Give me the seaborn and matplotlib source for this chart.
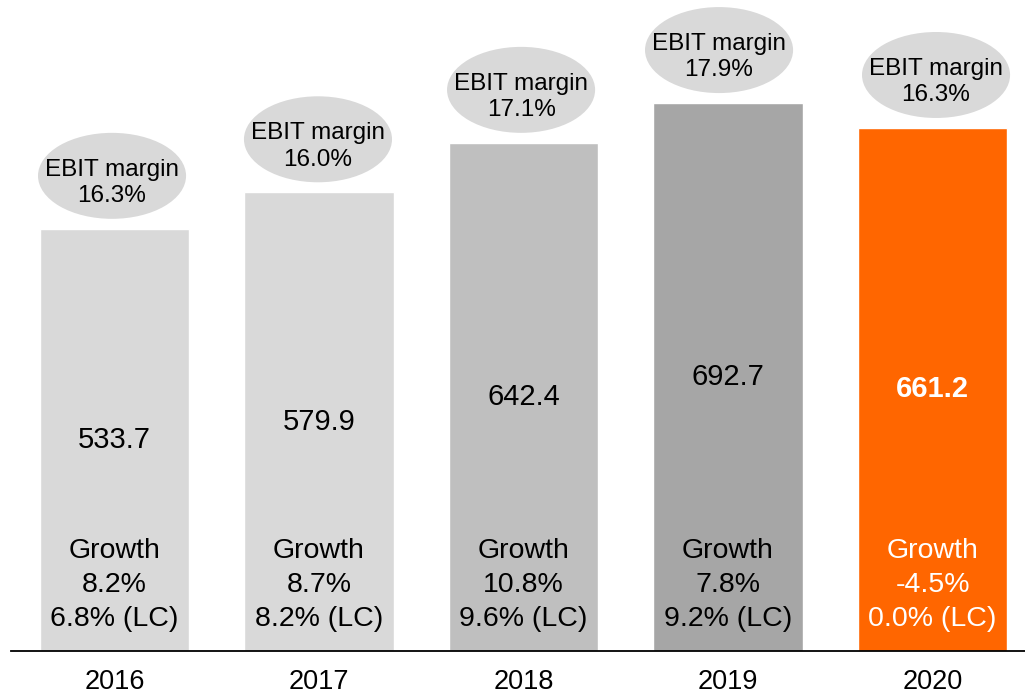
import matplotlib
matplotlib.use("Agg")
import matplotlib.pyplot as plt
from matplotlib.patches import Ellipse
import seaborn as sns

# values
years       = ['2016', '2017', '2018', '2019', '2020']
sales       = [533.7, 579.9, 642.4, 692.7, 661.2]
ebit_margin = [16.3, 16.0, 17.1, 17.9, 16.3]
growth      = [8.2, 8.7, 10.8, 7.8, -4.5]
growth_lc   = [6.8, 8.2, 9.6, 9.2, 0.0]

BAR_COLORS = ['#D9D9D9', '#D9D9D9', '#BFBFBF', '#A6A6A6', '#FF6600']
BUBBLE     = '#D9D9D9'
HIGHLIGHT  = '2020'

# small horizontal nudges of the margin bubbles (layout only)
bubble_dx = [-0.012, -0.005, -0.012, -0.044, 0.017]

sns.set_style("white")
plt.rcParams['font.family'] = ['Liberation Sans', 'DejaVu Sans']

fig = plt.figure(figsize=(10.25, 6.97), dpi=100)
ax = fig.add_axes([11 / 1025, 46 / 697, 1014 / 1025, 651 / 697])

sns.barplot(x=years, y=sales, hue=years, palette=BAR_COLORS, legend=False,
            width=0.73, saturation=1, ax=ax)

ax.set_xlim(-0.506, 4.452)
ax.set_ylim(0, 823)

for i, yr in enumerate(years):
    hl = (yr == HIGHLIGHT)
    txt_col = 'white' if hl else 'black'

    # value in the middle of the bar
    ax.text(i, sales[i] / 2, f"{sales[i]:.1f}", ha='center', va='center',
            fontsize=21, color=txt_col, fontweight='bold' if hl else 'normal')

    # growth block near the bottom
    ax.text(i, 84, f"Growth\n{growth[i]:.1f}%\n{growth_lc[i]:.1f}% (LC)",
            ha='center', va='center', fontsize=20.5, color=txt_col,
            linespacing=1.4)

    # EBIT margin bubble above the bar
    cy = sales[i] + 67
    ax.add_patch(Ellipse((i + bubble_dx[i], cy), 0.724, 108.7,
                         facecolor=BUBBLE, edgecolor='none', zorder=3))
    ax.text(i + bubble_dx[i], cy - 9, f"EBIT margin\n{ebit_margin[i]:.1f}%",
            ha='center', va='center', fontsize=17.5, color='black',
            linespacing=1.25, zorder=4)

for s in ['top', 'right', 'left']:
    ax.spines[s].set_visible(False)
ax.spines['bottom'].set_color('black')
ax.spines['bottom'].set_linewidth(1.3)

ax.set_yticks([])
ax.set_xlabel('')
ax.set_ylabel('')
ax.tick_params(axis='x', length=0, pad=13, labelsize=19.5, labelcolor='black')

plt.savefig("out.png", dpi=100)
plt.close()
